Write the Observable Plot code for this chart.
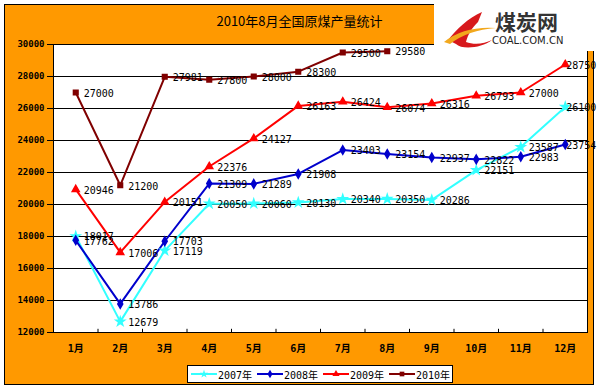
<!DOCTYPE html>
<html><head><meta charset="utf-8">
<script src="https://cdn.jsdelivr.net/npm/d3@7"></script>
<script src="https://cdn.jsdelivr.net/npm/@observablehq/plot@0.6"></script>
<style>
body{margin:0;background:#fff;}
#wrap{position:relative;width:599px;height:389px;overflow:hidden;font-family:"DejaVu Sans Mono","Noto Sans CJK SC",monospace;}
#bg{position:absolute;left:4px;top:4px;width:590px;height:381px;box-sizing:border-box;border:1px solid #000;background:#FF9900;}
#chart{position:absolute;left:0;top:0;}
#title{position:absolute;left:0;width:599px;top:11px;text-align:center;font:13px "Noto Sans CJK SC",sans-serif;color:#000;}
#logo{position:absolute;left:434px;top:0;width:165px;height:51px;background:#fff;}
#legend{position:absolute;left:187px;top:365px;width:266px;height:18px;box-sizing:border-box;border:1px solid #000;background:#fff;display:flex;align-items:center;padding-left:2px;white-space:nowrap;}
#legend .it{display:flex;align-items:center;width:66px;flex:none;white-space:nowrap;font:10px "DejaVu Sans Mono","Noto Sans CJK SC",monospace;}
#legend .it span{white-space:nowrap;}
</style></head>
<body><div id="wrap"><div id="bg"></div><div id="chart"></div><div id="title">2010年8月全国原煤产量统计</div>
<div id="logo"><svg width="165" height="51">
<path d="M14,40 C22,30 34,18 48,12 L44,22 C38,28 34,34 32,42 C40,45 50,44 58,40 C48,48 28,50 22,44 Z" fill="#D7191C"/>
<path d="M10,42 Q30,26 62,28 Q34,30 16,44 Z" fill="#F2A81D"/>
<text x="61" y="30" font-family="Noto Sans CJK SC" font-weight="bold" font-size="21" fill="#333">煤炭网</text>
<text x="58" y="44" font-family="DejaVu Sans" font-size="10" fill="#222">COAL.COM.CN</text>
</svg></div>
<div id="legend"></div></div>
<script>
const months = ["1月","2月","3月","4月","5月","6月","7月","8月","9月","10月","11月","12月"];
const seriesNames = ["2007年","2008年","2009年","2010年"];
const v2007 = [18017,12679,17119,20050,20060,20130,20340,20350,20286,22151,23587,26100];
const v2008 = [17762,13786,17703,21309,21289,21908,23403,23154,22937,22822,22983,23754];
const v2009 = [20946,17006,20151,22376,24127,26163,26424,26074,26316,26793,27000,28750];
const v2010 = [27000,21200,27981,27800,28000,28300,29500,29580];
const yTicks = [12000,14000,16000,18000,20000,22000,24000,26000,28000,30000];
const colors = ["#33FFFF","#0000CC","#FF0000","#800000"];
const symbols = ["star","diamond","triangle","square"];

const allVals = [v2007,v2008,v2009,v2010];
const rows = [];
allVals.forEach((vals,i)=>vals.forEach((v,j)=>rows.push({series:seriesNames[i], m:j+1, v})));

const plot = Plot.plot({
  width:599, height:389,
  marginLeft:53, marginRight:12, marginTop:44, marginBottom:57,
  style:{background:"transparent", overflow:"visible", fontFamily:"DejaVu Sans Mono, Noto Sans CJK SC, monospace"},
  x:{type:"linear", domain:[0.5,12.5]},
  y:{domain:[12000,30000]},
  color:{domain:seriesNames, range:colors},
  symbol:{domain:seriesNames, range:symbols},
  marks:[
    Plot.frame({fill:"white", stroke:null}),
    Plot.ruleY(yTicks, {stroke:"black", strokeWidth:1}),
    Plot.ruleX(d3.range(1.5,12,1), {y1:12000, y2:12200, stroke:"black"}),
    Plot.frame({stroke:"black"}),
    Plot.axisY({ticks:yTicks, tickSize:6, tickPadding:3, tickFormat:d=>String(d), fontSize:9, fontWeight:"bold", label:null}),
    Plot.axisX({ticks:d3.range(1,13), tickSize:0, tickPadding:12, tickFormat:i=>months[i-1], fontSize:10, fontWeight:"bold", label:null}),
    Plot.line(rows, {x:"m", y:"v", z:"series", stroke:"series", strokeWidth:2}),
    Plot.dot(rows, {x:"m", y:"v", symbol:"series", fill:"series", stroke:"series", r:2.6}),
    Plot.text(rows.filter(d=>d.m<12), {x:"m", y:"v", text:d=>String(d.v), dx:8, dy:1, textAnchor:"start", fontSize:10, fill:"black"}),
    Plot.text(rows.filter(d=>d.m===12), {x:"m", y:"v", text:d=>String(d.v), dx:1, dy:1, textAnchor:"start", fontSize:10, fill:"black"})
  ]
});
document.getElementById("chart").appendChild(plot);

const leg = document.getElementById("legend");
const symMap = {star:d3.symbolStar, diamond:d3.symbolDiamond, triangle:d3.symbolTriangle, square:d3.symbolSquare};
seriesNames.forEach((s,i)=>{
  const it = document.createElement("div"); it.className="it";
  const sym = d3.symbol(symMap[symbols[i]], 22)();
  it.innerHTML = `<svg width="28" height="12" style="flex:none"><line x1="1" x2="27" y1="6" y2="6" stroke="${colors[i]}" stroke-width="2"/><path transform="translate(14,6)" d="${sym}" fill="${colors[i]}"/></svg><span>${s}</span>`;
  leg.appendChild(it);
});
</script></body></html>
